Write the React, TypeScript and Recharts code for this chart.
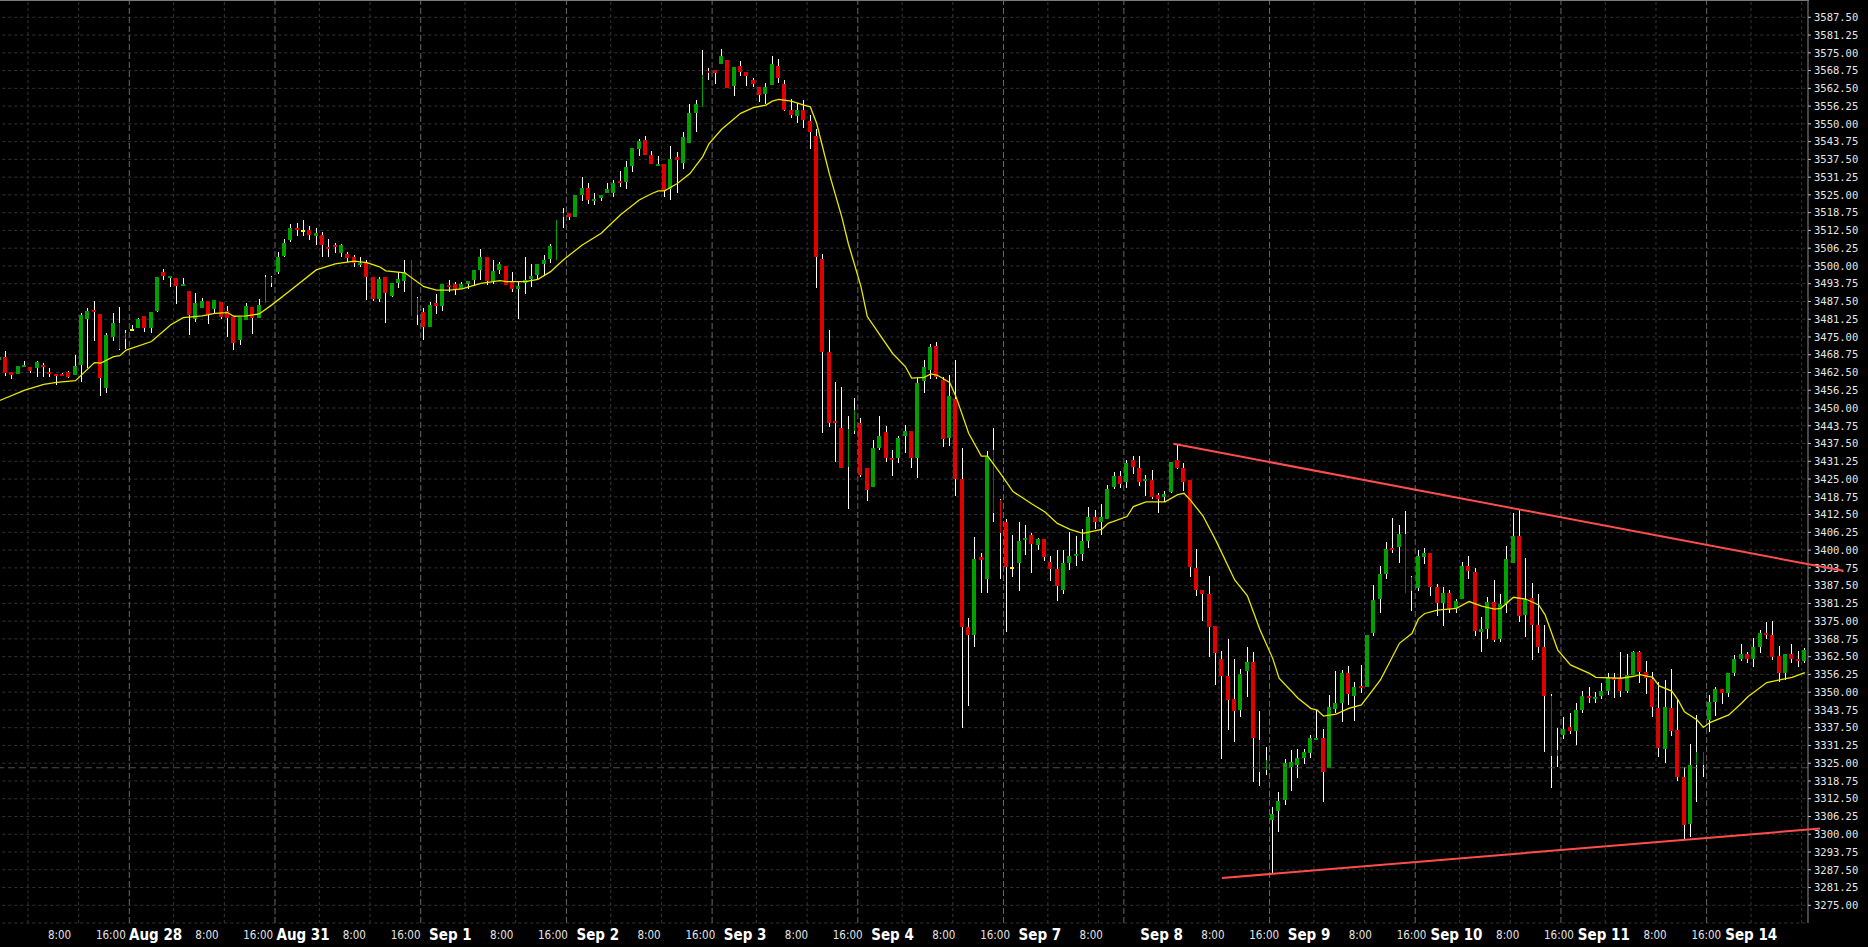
import React from 'react'
import { ComposedChart, Bar, Line, XAxis, YAxis, CartesianGrid, ReferenceLine } from 'recharts'

// hourly bars, Aug 26 19:00 -> Sep 14 08:00, one entry per bar
const opens = [
  3467.0, 3468.1, 3462.7, 3461.9, 3464.5, 3464.3, 3464.2, 3465.0, 3462.8, 3462.0,
  3462.0, 3462.7, 3461.6, 3465.3, 3481.3, 3484.5, 3483.1, 3457.2, 3475.1, 3479.9,
  3474.2, 3477.9, 3478.3, 3482.4, 3478.3, 3484.2, 3497.9, 3495.9, 3495.8, 3493.0,
  3491.2, 3481.4, 3485.2, 3487.7, 3485.0, 3487.4, 3484.0, 3481.9, 3473.9, 3481.0,
  3485.6, 3481.6, 3486.8, 3494.0, 3497.9, 3503.5, 3509.0, 3513.5, 3512.5, 3512.5,
  3510.5, 3511.0, 3506.8, 3507.4, 3504.7, 3504.2, 3503.0, 3500.7, 3501.4, 3496.2,
  3488.2, 3496.2, 3489.4, 3493.9, 3494.7, 3502.1, 3482.7, 3483.9, 3478.4, 3486.8,
  3486.0, 3493.3, 3493.6, 3491.9, 3493.6, 3495.1, 3498.6, 3503.0, 3494.7, 3498.6,
  3500.0, 3494.5, 3491.9, 3494.1, 3495.4, 3496.8, 3500.7, 3502.4, 3502.1, 3517.1,
  3518.8, 3517.1, 3525.0, 3527.4, 3522.9, 3524.0, 3525.6, 3525.6, 3529.9, 3529.7,
  3535.3, 3541.2, 3544.3, 3539.0, 3535.2, 3535.9, 3527.0, 3538.2, 3536.3, 3543.4,
  3553.7, 3556.0, 3568.6, 3568.9, 3571.1, 3572.5, 3563.4, 3570.5, 3568.4, 3565.4,
  3562.9, 3560.5, 3563.7, 3570.4, 3564.0, 3554.9, 3552.8, 3554.9, 3551.0, 3545.7,
  3502.3, 3469.8, 3445.4, 3442.9, 3429.4, 3442.0, 3444.6, 3429.0, 3422.3, 3436.0,
  3441.7, 3432.5, 3432.5, 3440.3, 3441.9, 3432.5, 3459.5, 3463.4, 3471.8, 3459.9,
  3439.6, 3453.3, 3424.9, 3373.0, 3370.0, 3397.5, 3390.0, 3435.2, 3417.6, 3409.8,
  3394.2, 3395.6, 3403.6, 3405.3, 3401.8, 3403.8, 3395.8, 3393.4, 3386.0, 3395.5,
  3398.1, 3398.6, 3403.2, 3411.5, 3409.9, 3411.1, 3422.2, 3426.1, 3424.1, 3431.7,
  3428.9, 3424.7, 3424.7, 3419.4, 3418.8, 3420.6, 3431.7, 3429.0, 3424.7, 3393.7,
  3385.9, 3384.7, 3373.4, 3361.7, 3355.8, 3347.5, 3343.7, 3357.4, 3360.5, 3333.2,
  3322.6, 3305.0, 3308.2, 3312.1, 3323.8, 3324.4, 3326.9, 3328.7, 3333.3, 3333.7,
  3323.2, 3344.0, 3346.3, 3356.6, 3348.7, 3352.2, 3351.9, 3370.7, 3382.8, 3391.7,
  3400.9, 3401.2, 3405.7, 3385.5, 3386.8, 3397.7, 3398.9, 3386.9, 3381.3, 3384.8,
  3379.5, 3382.7, 3394.4, 3392.3, 3371.3, 3372.4, 3381.7, 3368.7, 3381.0, 3395.6,
  3405.0, 3377.2, 3383.1, 3373.6, 3365.8, 3348.7, 3327.5, 3334.9, 3337.6, 3336.4,
  3343.7, 3348.7, 3348.0, 3348.7, 3350.5, 3355.1, 3354.7, 3350.5, 3356.0, 3364.3,
  3357.0, 3354.6, 3344.6, 3330.1, 3344.4, 3336.7, 3320.3, 3303.6, 3324.4, 3329.1,
  3340.2, 3346.7, 3351.1, 3349.8, 3356.6, 3361.7, 3363.4, 3361.6, 3366.0, 3371.0,
  3370.1, 3362.7, 3356.6, 3363.4, 3361.7, 3361.0,
]
const highs = [
  3468.0, 3470.2, 3462.7, 3464.8, 3466.5, 3464.3, 3466.6, 3465.7, 3464.1, 3462.0,
  3462.4, 3463.0, 3468.6, 3483.5, 3485.1, 3487.7, 3483.1, 3476.3, 3483.3, 3485.6,
  3477.5, 3479.2, 3481.8, 3482.4, 3483.8, 3496.1, 3498.8, 3496.5, 3495.8, 3495.6,
  3491.2, 3490.4, 3488.8, 3487.7, 3488.0, 3487.4, 3485.9, 3481.9, 3482.1, 3487.1,
  3485.6, 3488.4, 3496.7, 3496.5, 3505.0, 3509.5, 3514.6, 3515.0, 3516.0, 3514.0,
  3513.5, 3512.0, 3509.5, 3508.0, 3507.8, 3505.0, 3504.0, 3503.0, 3502.0, 3496.2,
  3496.2, 3496.2, 3493.9, 3497.8, 3502.1, 3502.1, 3489.0, 3485.1, 3487.2, 3490.0,
  3493.6, 3495.1, 3494.4, 3494.4, 3494.6, 3498.6, 3506.0, 3503.0, 3502.0, 3501.4,
  3500.0, 3497.8, 3494.5, 3503.1, 3500.7, 3500.7, 3503.9, 3507.7, 3516.2, 3520.3,
  3518.8, 3525.0, 3531.3, 3529.2, 3525.6, 3524.8, 3529.1, 3530.2, 3533.4, 3536.8,
  3541.5, 3544.7, 3545.7, 3540.5, 3538.7, 3535.9, 3542.2, 3540.1, 3547.0, 3557.0,
  3558.4, 3576.0, 3569.8, 3568.9, 3576.3, 3572.5, 3570.0, 3572.1, 3568.4, 3566.3,
  3562.9, 3564.3, 3573.9, 3572.8, 3565.4, 3558.6, 3557.2, 3558.4, 3553.1, 3548.1,
  3504.2, 3477.5, 3459.2, 3457.3, 3447.2, 3453.5, 3446.4, 3429.0, 3438.7, 3447.2,
  3443.7, 3435.2, 3440.2, 3444.0, 3441.9, 3460.5, 3466.9, 3472.4, 3473.2, 3460.8,
  3461.6, 3466.9, 3435.8, 3376.0, 3404.7, 3399.0, 3434.9, 3442.9, 3418.0, 3411.0,
  3405.3, 3409.8, 3408.8, 3405.9, 3404.3, 3403.8, 3397.9, 3400.0, 3400.0, 3406.5,
  3405.0, 3407.3, 3415.2, 3414.1, 3416.2, 3422.9, 3427.4, 3427.7, 3431.7, 3433.1,
  3433.1, 3426.4, 3428.2, 3420.0, 3420.8, 3431.0, 3436.9, 3430.8, 3424.7, 3400.4,
  3385.9, 3391.0, 3373.4, 3364.6, 3368.7, 3361.7, 3358.2, 3365.8, 3364.0, 3343.4,
  3330.8, 3309.7, 3315.0, 3326.5, 3329.7, 3330.0, 3329.9, 3334.9, 3343.7, 3337.0,
  3349.0, 3357.5, 3357.8, 3359.3, 3353.5, 3359.6, 3370.1, 3387.7, 3394.5, 3403.0,
  3411.3, 3408.8, 3413.8, 3391.0, 3400.0, 3400.6, 3398.9, 3388.1, 3386.9, 3386.0,
  3382.8, 3395.9, 3397.9, 3393.6, 3376.6, 3383.4, 3389.5, 3384.5, 3401.4, 3413.2,
  3414.1, 3397.1, 3388.3, 3384.5, 3373.5, 3349.4, 3337.3, 3341.1, 3342.6, 3346.1,
  3350.4, 3351.7, 3350.1, 3353.1, 3356.9, 3356.9, 3364.3, 3363.4, 3364.6, 3364.6,
  3361.0, 3357.1, 3353.5, 3354.3, 3358.2, 3347.6, 3323.8, 3331.8, 3341.9, 3329.1,
  3349.0, 3351.7, 3351.1, 3356.6, 3363.1, 3366.9, 3364.1, 3369.1, 3371.9, 3374.6,
  3375.0, 3366.2, 3363.4, 3366.9, 3364.6, 3365.7,
]
const lows = [
  3466.5, 3461.3, 3460.1, 3461.9, 3464.5, 3462.4, 3461.0, 3461.0, 3460.8, 3458.2,
  3461.3, 3460.5, 3461.6, 3459.3, 3464.0, 3473.7, 3454.4, 3455.4, 3473.6, 3470.4,
  3470.8, 3477.5, 3478.3, 3476.8, 3476.5, 3483.8, 3495.0, 3492.7, 3486.6, 3493.0,
  3475.7, 3480.3, 3485.2, 3479.5, 3483.3, 3481.3, 3475.1, 3470.5, 3472.1, 3481.0,
  3476.0, 3481.6, 3486.8, 3492.7, 3497.0, 3503.0, 3508.5, 3510.5, 3510.5, 3509.0,
  3507.5, 3503.0, 3503.0, 3504.7, 3503.3, 3501.4, 3499.5, 3499.5, 3488.0, 3487.8,
  3487.4, 3479.8, 3489.2, 3492.1, 3490.9, 3482.4, 3479.2, 3473.9, 3478.4, 3483.1,
  3484.3, 3491.0, 3489.8, 3491.9, 3491.8, 3493.0, 3495.1, 3493.3, 3493.5, 3497.2,
  3493.3, 3490.9, 3481.4, 3490.1, 3492.7, 3495.4, 3496.8, 3500.9, 3502.1, 3513.5,
  3516.2, 3517.1, 3523.0, 3521.8, 3521.3, 3523.0, 3525.6, 3524.3, 3527.7, 3527.1,
  3533.1, 3538.8, 3539.0, 3535.9, 3535.2, 3524.4, 3523.2, 3525.6, 3534.1, 3543.4,
  3547.3, 3556.0, 3565.4, 3564.0, 3571.1, 3562.7, 3559.9, 3566.8, 3563.3, 3563.1,
  3557.8, 3557.0, 3563.7, 3564.5, 3554.5, 3551.9, 3550.4, 3548.7, 3541.0, 3492.4,
  3441.1, 3443.4, 3430.9, 3429.0, 3414.3, 3441.0, 3425.8, 3417.4, 3422.3, 3435.2,
  3431.1, 3426.2, 3430.8, 3434.1, 3429.0, 3425.3, 3455.2, 3460.1, 3460.2, 3436.4,
  3436.7, 3419.2, 3337.5, 3345.0, 3366.0, 3385.0, 3385.0, 3410.0, 3390.0, 3371.3,
  3390.7, 3385.7, 3398.3, 3392.1, 3400.0, 3396.0, 3389.2, 3382.2, 3384.6, 3393.0,
  3394.4, 3396.3, 3400.7, 3407.4, 3405.4, 3411.1, 3421.5, 3421.9, 3422.0, 3426.8,
  3422.7, 3419.2, 3418.0, 3413.2, 3417.0, 3420.0, 3428.5, 3420.8, 3390.7, 3384.0,
  3375.0, 3362.5, 3352.5, 3326.5, 3336.7, 3332.6, 3341.4, 3348.4, 3318.5, 3317.1,
  3320.9, 3286.2, 3300.9, 3310.3, 3315.2, 3319.9, 3324.9, 3326.9, 3333.3, 3311.5,
  3323.2, 3342.5, 3339.4, 3345.5, 3340.0, 3349.8, 3351.9, 3369.8, 3377.7, 3389.9,
  3399.1, 3395.6, 3384.8, 3378.7, 3385.6, 3395.0, 3384.0, 3376.9, 3373.4, 3378.0,
  3378.0, 3382.7, 3389.8, 3369.8, 3364.3, 3368.8, 3367.8, 3367.5, 3377.7, 3395.6,
  3374.8, 3369.3, 3361.3, 3363.9, 3329.1, 3316.2, 3323.6, 3333.5, 3335.3, 3331.4,
  3342.8, 3346.3, 3346.1, 3347.7, 3349.0, 3347.8, 3348.4, 3349.8, 3356.0, 3353.4,
  3349.4, 3341.4, 3327.3, 3325.2, 3334.7, 3318.9, 3298.2, 3299.2, 3311.5, 3320.0,
  3336.1, 3341.6, 3345.8, 3348.4, 3355.8, 3361.1, 3360.4, 3359.0, 3363.9, 3368.6,
  3361.3, 3353.7, 3354.3, 3360.2, 3359.0, 3360.2,
]
const closes = [
  3467.8, 3462.4, 3461.7, 3464.8, 3465.1, 3463.1, 3466.2, 3464.3, 3462.1, 3461.3,
  3461.3, 3460.9, 3464.8, 3482.7, 3484.1, 3483.9, 3460.7, 3475.7, 3479.9, 3470.8,
  3476.5, 3477.9, 3481.3, 3478.3, 3483.8, 3496.1, 3496.6, 3496.5, 3492.9, 3493.6,
  3482.7, 3486.9, 3487.7, 3483.1, 3488.0, 3482.1, 3481.6, 3473.0, 3482.1, 3485.9,
  3481.8, 3486.2, 3496.2, 3496.0, 3503.3, 3507.9, 3513.3, 3512.5, 3512.5, 3511.0,
  3511.5, 3507.5, 3506.2, 3506.8, 3507.4, 3502.9, 3501.0, 3501.2, 3496.2, 3488.4,
  3495.3, 3490.6, 3493.9, 3495.4, 3497.8, 3482.4, 3488.6, 3478.4, 3486.3, 3485.8,
  3493.6, 3492.7, 3491.9, 3493.6, 3494.6, 3498.6, 3503.0, 3494.7, 3498.2, 3500.7,
  3493.3, 3491.9, 3492.9, 3495.1, 3496.6, 3500.7, 3502.1, 3507.0, 3516.2, 3518.8,
  3517.1, 3525.0, 3527.4, 3523.2, 3523.6, 3524.8, 3527.1, 3529.2, 3529.2, 3534.8,
  3541.5, 3543.9, 3539.0, 3535.9, 3535.9, 3526.4, 3537.6, 3537.3, 3545.3, 3553.7,
  3557.0, 3567.2, 3568.0, 3568.0, 3573.9, 3562.7, 3570.0, 3568.4, 3567.0, 3564.0,
  3560.2, 3562.9, 3571.1, 3566.3, 3554.9, 3553.1, 3554.9, 3551.4, 3547.3, 3503.3,
  3469.8, 3444.6, 3444.7, 3429.0, 3442.5, 3449.3, 3426.4, 3421.2, 3435.8, 3440.2,
  3432.5, 3431.7, 3439.6, 3441.9, 3432.5, 3458.7, 3464.6, 3471.6, 3461.0, 3439.1,
  3454.2, 3424.9, 3373.0, 3370.0, 3396.8, 3396.5, 3432.9, 3412.9, 3405.9, 3394.0,
  3394.2, 3403.2, 3404.1, 3402.3, 3403.9, 3397.7, 3393.5, 3387.4, 3395.5, 3398.0,
  3398.6, 3403.2, 3411.5, 3410.0, 3411.5, 3421.5, 3426.1, 3423.3, 3430.5, 3429.4,
  3424.1, 3425.0, 3418.8, 3418.0, 3419.7, 3431.0, 3429.0, 3424.1, 3394.0, 3386.0,
  3384.7, 3373.1, 3363.7, 3355.8, 3347.2, 3343.5, 3356.4, 3360.5, 3334.0, 3322.0,
  3326.0, 3307.0, 3311.7, 3325.0, 3325.6, 3326.7, 3328.8, 3333.7, 3333.7, 3322.0,
  3344.7, 3346.1, 3356.6, 3349.4, 3351.7, 3351.7, 3370.1, 3382.4, 3391.6, 3400.4,
  3400.2, 3405.5, 3384.8, 3390.4, 3397.9, 3398.9, 3386.9, 3381.3, 3384.8, 3379.2,
  3382.2, 3394.4, 3392.8, 3371.6, 3372.1, 3381.7, 3368.4, 3381.0, 3396.9, 3405.0,
  3376.9, 3382.4, 3373.6, 3366.0, 3348.7, 3327.5, 3329.6, 3337.2, 3336.4, 3343.7,
  3348.7, 3348.0, 3348.4, 3350.5, 3355.2, 3354.5, 3350.5, 3356.0, 3364.3, 3357.2,
  3354.9, 3344.9, 3330.5, 3344.7, 3336.5, 3320.3, 3303.3, 3324.4, 3329.1, 3324.4,
  3346.5, 3351.1, 3349.8, 3356.6, 3361.6, 3363.4, 3361.6, 3365.9, 3371.0, 3370.2,
  3362.5, 3356.6, 3363.4, 3361.6, 3361.1, 3364.8,
]

// yellow average at these bars
const maBars = [
  0, 4, 7, 9, 12, 15, 16, 18, 19, 20, 24, 27, 29, 32, 34, 36, 37, 39, 41, 43,
  46, 50, 53, 56, 58, 60, 61, 64, 67, 69, 71, 73, 76, 79, 80, 83, 85, 87, 89, 92,
  95, 98, 101, 103, 104, 105, 107, 109, 110, 111, 112, 114, 117, 119, 121, 122, 123, 125, 127, 128,
  129, 131, 133, 134, 136, 137, 141, 143, 144, 146, 147, 148, 150, 151, 153, 155, 156, 158, 160, 163,
  165, 167, 169, 171, 174, 175, 178, 179, 181, 184, 186, 187, 188, 190, 192, 195, 197, 199, 201, 202,
  205, 207, 208, 209, 211, 213, 215, 216, 218, 221, 223, 224, 225, 227, 230, 232, 234, 236, 237, 239,
  241, 243, 244, 246, 248, 251, 252, 256, 258, 259, 261, 262, 264, 265, 266, 268, 269, 270, 273, 275,
  276, 279, 281, 283, 285,
]
const maValues = [
  3452.6, 3456.3, 3458.3, 3459.0, 3459.6, 3466.0, 3465.8, 3468.1, 3468.4, 3470.4,
  3473.4, 3479.2, 3481.8, 3482.4, 3483.3, 3483.6, 3482.3, 3482.4, 3483.1, 3486.3,
  3491.5, 3498.6, 3500.7, 3501.7, 3501.2, 3499.7, 3498.3, 3497.6, 3492.7, 3491.5,
  3491.5, 3491.9, 3493.9, 3494.8, 3494.5, 3494.5, 3495.3, 3498.0, 3502.1, 3507.4,
  3511.5, 3517.9, 3523.2, 3525.5, 3526.4, 3526.4, 3529.0, 3532.5, 3535.5, 3538.4,
  3543.0, 3548.1, 3553.7, 3555.7, 3556.6, 3558.0, 3558.6, 3558.0, 3556.6, 3556.0,
  3550.2, 3532.5, 3517.0, 3507.9, 3492.7, 3482.2, 3469.2, 3464.6, 3460.5, 3460.8,
  3462.0, 3461.6, 3459.0, 3454.0, 3441.1, 3433.1, 3433.1, 3427.0, 3420.6, 3416.2,
  3413.5, 3409.4, 3407.3, 3405.9, 3407.3, 3409.4, 3411.8, 3415.3, 3417.0, 3417.0,
  3419.5, 3420.0, 3417.6, 3412.0, 3403.5, 3389.5, 3383.9, 3371.9, 3361.9, 3354.9,
  3347.9, 3344.3, 3343.7, 3341.6, 3342.3, 3344.3, 3345.5, 3348.4, 3354.3, 3367.2,
  3370.7, 3375.8, 3377.7, 3378.9, 3379.5, 3381.9, 3380.3, 3379.2, 3379.5, 3383.4,
  3382.7, 3380.7, 3377.2, 3364.8, 3359.6, 3356.6, 3355.2, 3354.9, 3355.6, 3356.2,
  3355.2, 3352.2, 3350.4, 3347.2, 3343.1, 3340.2, 3337.6, 3339.3, 3342.0, 3346.1,
  3348.4, 3353.4, 3354.3, 3355.2, 3356.9,
]

// vertical gridlines sit on the left edge of these bars
const gridBars = [5, 13, 21, 28, 36, 44, 51, 59, 67, 74, 82, 90, 97, 105, 113, 120, 128, 136, 143, 151,
  159, 166, 174, 178, 185, 193, 201, 208, 216, 224, 231, 239, 247, 254, 262, 270, 277, 285]
const sessionBars = [21, 44, 67, 90, 113, 136, 159, 178, 201, 224, 247, 270]
// the 14:00 / 15:00 bars are drawn squeezed
const narrowBars = [19, 20, 42, 43, 65, 66, 88, 89, 111, 112, 134, 135, 157, 158, 199, 200, 222, 223, 245, 246, 268, 269]

const labelBars = [13, 21, 28, 36, 44, 51, 59, 67, 74, 82, 90, 97, 105, 113, 120, 128, 136, 143, 151, 159,
  166, 174, 185, 193, 201, 208, 216, 224, 231, 239, 247, 254, 262, 270, 277]
const labelTexts = ['8:00', '16:00', 'Aug 28', '8:00', '16:00', 'Aug 31', '8:00', '16:00', 'Sep 1', '8:00',
  '16:00', 'Sep 2', '8:00', '16:00', 'Sep 3', '8:00', '16:00', 'Sep 4', '8:00', '16:00',
  'Sep 7', '8:00', 'Sep 8', '8:00', '16:00', 'Sep 9', '8:00', '16:00', 'Sep 10', '8:00',
  '16:00', 'Sep 11', '8:00', '16:00', 'Sep 14']

const priceTicks = [
  3275, 3281.25, 3287.5, 3293.75, 3300, 3306.25, 3312.5, 3318.75, 3325, 3331.25,
  3337.5, 3343.75, 3350, 3356.25, 3362.5, 3368.75, 3375, 3381.25, 3387.5, 3393.75,
  3400, 3406.25, 3412.5, 3418.75, 3425, 3431.25, 3437.5, 3443.75, 3450, 3456.25,
  3462.5, 3468.75, 3475, 3481.25, 3487.5, 3493.75, 3500, 3506.25, 3512.5, 3518.75,
  3525, 3531.25, 3537.5, 3543.75, 3550, 3556.25, 3562.5, 3568.75, 3575, 3581.25, 3587.5,
]

// hand-drawn trend lines (bar number, price); they run on past the last bar
const upperTrend = [{ x: 185.33, y: 3437.4 }, { x: 291.07, y: 3392.7 }]
const lowerTrend = [{ x: 192.97, y: 3284.6 }, { x: 287.4, y: 3302.0 }]
const markLevel = 3323.4

const PRICE_DOMAIN = [3268.77, 3593.59]
const GREEN = '#00a000'
const RED = '#e00000'
const DOJI = '#ffff00'

const data = opens.map((o, i) => {
  const k = maBars.indexOf(i)
  return { i, open: o, high: highs[i], low: lows[i], close: closes[i], ma: k >= 0 ? maValues[k] : null }
})

function Candle(props: any) {
  const { x, y, width, height, payload } = props
  if (x == null || !payload) return null
  const { open, high, low, close, i } = payload
  const range = high - low
  const toY = (p: number) => (range > 0 ? y + ((high - p) / range) * height : y)
  const cx = Math.floor(x + width / 2)
  const narrow = narrowBars.includes(i)
  const fill = close > open ? GREEN : close < open ? RED : DOJI
  const top = Math.round(toY(Math.max(open, close)))
  const bottom = Math.round(toY(Math.min(open, close)))
  const wickTop = Math.round(y)
  const wickH = Math.max(1, Math.round(y + height) - wickTop)
  return (
    <g shapeRendering="crispEdges">
      <rect x={cx} y={wickTop} width={1} height={wickH} fill="#ffffff" />
      <rect x={narrow ? cx : cx - 2} y={top} width={narrow ? 1 : 4} height={Math.max(2, bottom - top)} fill={fill} />
    </g>
  )
}

function TimeTick(props: any) {
  const { x, payload } = props
  const k = labelBars.indexOf(payload.value)
  if (k < 0) return null
  const text = labelTexts[k]
  const isDate = !text.includes(':')
  return (
    <text
      x={x}
      y={935}
      textAnchor="middle"
      dominantBaseline="central"
      fill={isDate ? '#ffffff' : '#e4e4e4'}
      fontFamily="'Liberation Sans Narrow', 'DejaVu Sans Condensed', sans-serif"
      fontWeight={isDate ? 700 : 400}
      fontSize={isDate ? 15 : 11.5}
    >
      {text}
    </text>
  )
}

export default function App() {
  return (
    <div style={{ position: 'absolute', top: 0, left: 0, width: 1868, height: 947, background: '#000', overflow: 'hidden' }}>
      <ComposedChart width={1868} height={947} data={data} margin={{ top: 0, right: 0, bottom: 0, left: -3.7 }}>
        <XAxis xAxisId="cat" dataKey="i" type="category" hide />
        <XAxis xAxisId="num" dataKey="i" type="number" domain={[-0.5, 285.5]} allowDataOverflow hide />
        <XAxis
          xAxisId="lab"
          dataKey="i"
          type="number"
          domain={[3.1275, 285.87]}
          allowDataOverflow
          ticks={labelBars}
          interval={0}
          height={24}
          tickLine={false}
          tickSize={0}
          tickMargin={0}
          axisLine={{ stroke: '#8c8c8c' }}
          tick={<TimeTick />}
        />
        <YAxis
          yAxisId="p"
          orientation="right"
          type="number"
          domain={PRICE_DOMAIN}
          allowDataOverflow
          ticks={priceTicks}
          interval={0}
          width={60}
          tickSize={3}
          tickMargin={3}
          tickLine={{ stroke: '#bdbdbd' }}
          axisLine={{ stroke: '#8c8c8c' }}
          tickFormatter={(v: number) => v.toFixed(2)}
          tick={{ fill: '#e6e6e6', fontSize: 10.5, fontFamily: "'DejaVu Sans Mono', monospace" }}
        />
        <CartesianGrid xAxisId="num" yAxisId="p" vertical={false} stroke="#333333" strokeDasharray="3 3" />
        {gridBars.map((b) => {
          const bright = sessionBars.includes(b)
          return (
            <ReferenceLine
              key={b}
              xAxisId="num"
              yAxisId="p"
              x={b - 0.5}
              stroke={bright ? '#666666' : '#363636'}
              strokeDasharray={bright ? '6 3' : '3 3'}
            />
          )
        })}
        <ReferenceLine xAxisId="num" yAxisId="p" y={markLevel} stroke="#4c4c4c" strokeDasharray="7 4" />
        <Bar
          xAxisId="cat"
          yAxisId="p"
          dataKey={(d: any) => [d.low, d.high]}
          barSize={4}
          shape={(p: any) => <Candle {...p} />}
          isAnimationActive={false}
        />
        <Line
          xAxisId="cat"
          yAxisId="p"
          dataKey="ma"
          stroke="#e8e800"
          strokeWidth={1.3}
          dot={false}
          activeDot={false}
          connectNulls
          isAnimationActive={false}
        />
      </ComposedChart>
      {/* overlay whose plot runs across the price scale too, so the trend lines can cross it */}
      <div style={{ position: 'absolute', top: 0, left: 0, pointerEvents: 'none' }}>
        <ComposedChart width={1868} height={947} data={data} margin={{ top: 0, right: 0, bottom: 24, left: -3.7 }}>
          <XAxis xAxisId="t" dataKey="i" type="number" domain={[-0.5, 294.97]} allowDataOverflow hide />
          <YAxis yAxisId="t" type="number" domain={PRICE_DOMAIN} allowDataOverflow hide />
          <ReferenceLine xAxisId="t" yAxisId="t" segment={upperTrend} stroke="#ff4d4d" strokeWidth={2} ifOverflow="visible" />
          <ReferenceLine xAxisId="t" yAxisId="t" segment={lowerTrend} stroke="#ff4d4d" strokeWidth={2} ifOverflow="visible" />
        </ComposedChart>
      </div>
      <div style={{ position: 'absolute', top: 0, left: 0, width: 1809, height: 1, background: '#7a7a7a' }} />
    </div>
  )
}
